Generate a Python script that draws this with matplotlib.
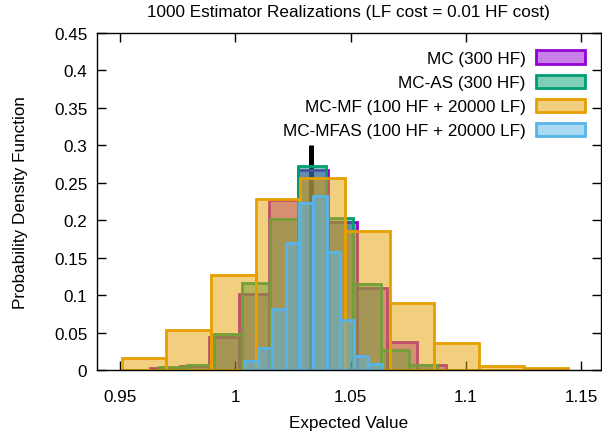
import matplotlib
matplotlib.use("Agg")
import matplotlib.pyplot as plt
from matplotlib.patches import Patch
from matplotlib.ticker import FuncFormatter

plt.rcParams['font.family'] = ['Liberation Sans', 'DejaVu Sans']
FS = 12.3

# Estimator series: labels and colours
series_labels = ["MC (300 HF)", "MC-AS (300 HF)",
                 "MC-MF (100 HF + 20000 LF)", "MC-MFAS (100 HF + 20000 LF)"]
series_colors = ["#9400d3", "#009e73", "#e69f00", "#56b4e9"]

# Histogram of each estimator: first bin edge, bin width, relative frequency per bin
mc_start, mc_width = 0.9629, 0.012874
mc_density = [0.003, 0.006, 0.044, 0.101, 0.227, 0.267, 0.197, 0.110, 0.038, 0.007]

mcas_start, mcas_width = 0.9668, 0.012058
mcas_density = [0.004, 0.007, 0.048, 0.116, 0.201, 0.272, 0.203, 0.115, 0.027, 0.007]

mcmf_start, mcmf_width = 0.9506, 0.019396
mcmf_density = [0.016, 0.053, 0.127, 0.229, 0.256, 0.185, 0.090, 0.036, 0.005, 0.003]

mcmfas_start, mcmfas_width = 1.0039, 0.005962
mcmfas_density = [0.012, 0.030, 0.081, 0.170, 0.223, 0.232, 0.158, 0.067, 0.019, 0.008]

# Reference (true) expected value marker
true_value = 1.0329
true_marker_top = 0.30

x_ticks = [0.95, 1.0, 1.05, 1.1, 1.15]
y_ticks = [0, 0.05, 0.1, 0.15, 0.2, 0.25, 0.3, 0.35, 0.4, 0.45]

fig = plt.figure(figsize=(6.02, 4.35), dpi=100)
ax = fig.add_axes([96.9 / 602, 64 / 435, (600.5 - 96.9) / 602, 337 / 435])

ax.plot([true_value, true_value], [0, true_marker_top], color="black",
        lw=3.6, solid_capstyle="butt", zorder=0.5)

hists = [(mc_start, mc_width, mc_density),
         (mcas_start, mcas_width, mcas_density),
         (mcmf_start, mcmf_width, mcmf_density),
         (mcmfas_start, mcmfas_width, mcmfas_density)]

fill_alpha = 0.5
for i, ((start, width, dens), col) in enumerate(zip(hists, series_colors)):
    lefts = [start + k * width for k in range(len(dens))]
    ax.bar(lefts, dens, width=width, align="edge",
           facecolor=matplotlib.colors.to_rgba(col, fill_alpha),
           edgecolor=col, linewidth=2.0, zorder=1 + i)

ax.set_xlim(0.9399, 1.1585)
ax.set_ylim(0, 0.45)
ax.set_xticks(x_ticks)
ax.set_yticks(y_ticks)
fmt = FuncFormatter(lambda v, p: "%g" % round(v, 4))
ax.xaxis.set_major_formatter(fmt)
ax.yaxis.set_major_formatter(fmt)
ax.tick_params(direction="in", length=6.5, width=1.0, top=True, right=True,
               labelsize=FS, colors="black")
ax.tick_params(axis="y", pad=7)
ax.tick_params(axis="x", pad=13.5)
ax.set_axisbelow(False)
for s in ax.spines.values():
    s.set_linewidth(1.0)
    s.set_zorder(10)

ax.set_xlabel("Expected Value", fontsize=FS, labelpad=7.8)
ax.set_ylabel("Probability Density Function", fontsize=FS, labelpad=19)
ax.set_title("1000 Estimator Realizations (LF cost = 0.01 HF cost)", fontsize=FS, pad=12.5)

handles = [Patch(facecolor=matplotlib.colors.to_rgba(c, fill_alpha), edgecolor=c, linewidth=2.0)
           for c in series_colors]
ax.legend(handles, series_labels, loc="upper right", bbox_to_anchor=(0.970, 0.9484),
          frameon=False, markerfirst=False, fontsize=FS, handlelength=2.92,
          handleheight=0.82, handletextpad=0.58, labelspacing=0.50,
          borderpad=0, borderaxespad=0)

fig.savefig("out.png", dpi=100)
